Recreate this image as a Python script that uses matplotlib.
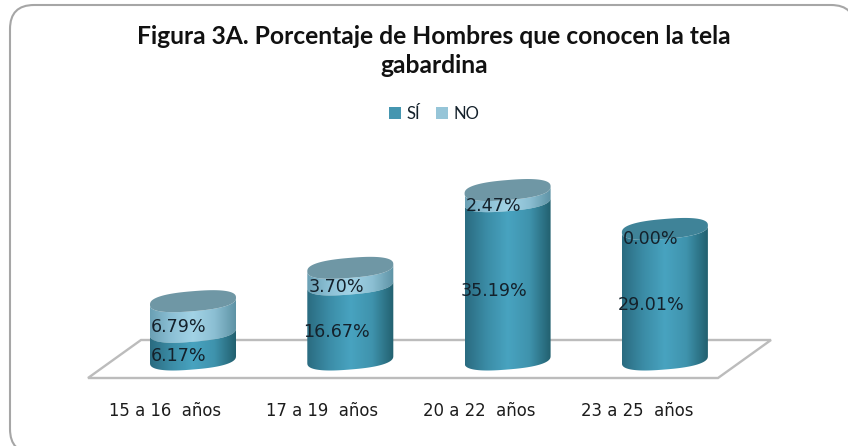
import numpy as np
import matplotlib
matplotlib.use("Agg")
import matplotlib.pyplot as plt
from matplotlib.colors import LinearSegmentedColormap
from matplotlib.patches import Polygon, FancyBboxPatch, Patch
from matplotlib.transforms import IdentityTransform

categories = ["15 a 16  años", "17 a 19  años", "20 a 22  años", "23 a 25  años"]
si_values = [6.17, 16.67, 35.19, 29.01]
no_values = [6.79, 3.70, 2.47, 0.00]
series_names = ["SÍ", "NO"]
title = "Figura 3A. Porcentaje de Hombres que conocen la tela\ngabardina"

W, H = 848, 446
fig = plt.figure(figsize=(W / 100, H / 100), dpi=100, facecolor="white")
ax = fig.add_axes([0, 0, 1, 1])
PX_X = 157.3   # pixels per category
PX_Y = 4.5     # pixels per percent
X0, Y0 = 193.0, 363.0
ax.set_xlim(-X0 / PX_X, (W - X0) / PX_X)
ax.set_ylim((Y0 - H) / PX_Y, Y0 / PX_Y)
ax.axis("off")

def px(x, y):
    return (x - X0) / PX_X, (Y0 - y) / PX_Y

# chart frame (runs off the right and bottom of the picture)
fig.add_artist(FancyBboxPatch((10, H - 453), 845, 448, boxstyle="round,pad=0,rounding_size=24",
                              fc="white", ec="#a6a6a6", lw=1.5,
                              transform=IdentityTransform(), zorder=-5))

# floor
floor = [px(88, 378), px(141, 340), px(771, 340), px(718, 378)]
ax.add_patch(Polygon(floor, closed=True, fc="white", ec="#bcbcbc", lw=1.7, zorder=1))

half_w = 43 / PX_X
semi_b = 10 / PX_Y
tilt = 3.5 / PX_Y

si_cmap = LinearSegmentedColormap.from_list("si", ["#2a6b80", "#3b8ca6", "#48a3c0", "#3f93ad", "#22606f"])
no_cmap = LinearSegmentedColormap.from_list("no", ["#6aa0b4", "#8cc0d5", "#a2d3e6", "#8cbfd3", "#5e93a5"])
grad = np.linspace(0, 1, 256).reshape(1, -1)

def ring(cx, base, t):
    c = np.cos(t)
    s = np.sin(t)
    cs = np.sign(c) * np.abs(c) ** 0.8
    ss = np.sign(s) * np.abs(s) ** 0.8
    return np.column_stack([cx + half_w * cs,
                            base + tilt + tilt * cs + semi_b * ss])

def segment(cx, v0, v1, cmap, z):
    front = np.linspace(np.pi, 2 * np.pi, 80)
    pts = np.vstack([ring(cx, v0, front), ring(cx, v1, front[::-1])])
    img = ax.imshow(grad, cmap=cmap, aspect="auto", zorder=z,
                    extent=(cx - half_w, cx + half_w, v0 - 4, v1 + 4))
    img.set_clip_path(Polygon(pts, closed=True, transform=ax.transData))

for i, (si, no) in enumerate(zip(si_values, no_values)):
    base_z = 2 + i
    segment(i, 0, si, si_cmap, base_z)
    total = si + no
    if no > 0:
        segment(i, si, total, no_cmap, base_z - 0.5)
    t = np.linspace(0, 2 * np.pi, 160)
    top = "#6f97a5" if no > 0 else "#3f8398"
    ax.add_patch(Polygon(ring(i, total, t), closed=True, fc=top, ec="none", zorder=base_z + 0.1))

# restore limits after imshow
ax.set_xlim(-X0 / PX_X, (W - X0) / PX_X)
ax.set_ylim((Y0 - H) / PX_Y, Y0 / PX_Y)

# data labels
lab_dx = -14 / PX_X
lab_dy = -7 / PX_Y
for i, (si, no) in enumerate(zip(si_values, no_values)):
    ax.text(i + lab_dx, si / 2 + lab_dy, f"{si:.2f}%", ha="center", va="center",
            fontsize=12.6, color="#14212b", zorder=10)
    ax.text(i + lab_dx, si + no / 2 + lab_dy, f"{no:.2f}%", ha="center", va="center",
            fontsize=12.6, color="#14212b", zorder=10)

# category labels
cat_y = px(0, 411)[1]
for i, c in enumerate(categories):
    ax.text(i - 28 / PX_X, cat_y, c, ha="center", va="center",
            fontsize=11.9, color="#1c1c1c", zorder=10)

# title
tx, ty = px(434, 51)
ax.text(tx, ty, title, ha="center", va="center", fontsize=17.7, fontweight="bold",
        family="Lato", color="#111111", linespacing=1.3, zorder=10)

# legend
handles = [Patch(fc="#4596b0", ec="none"), Patch(fc="#96c5d8", ec="none")]
leg = ax.legend(handles, series_names, loc="center", bbox_to_anchor=(434 / W, 1 - 114 / H),
                ncols=2, frameon=False, handlelength=0.72, handleheight=0.72, handletextpad=0.35,
                columnspacing=0.95, prop={"family": "Lato", "size": 12})
for txt in leg.get_texts():
    txt.set_color("#14212b")

fig.savefig("out.png", dpi=100)
